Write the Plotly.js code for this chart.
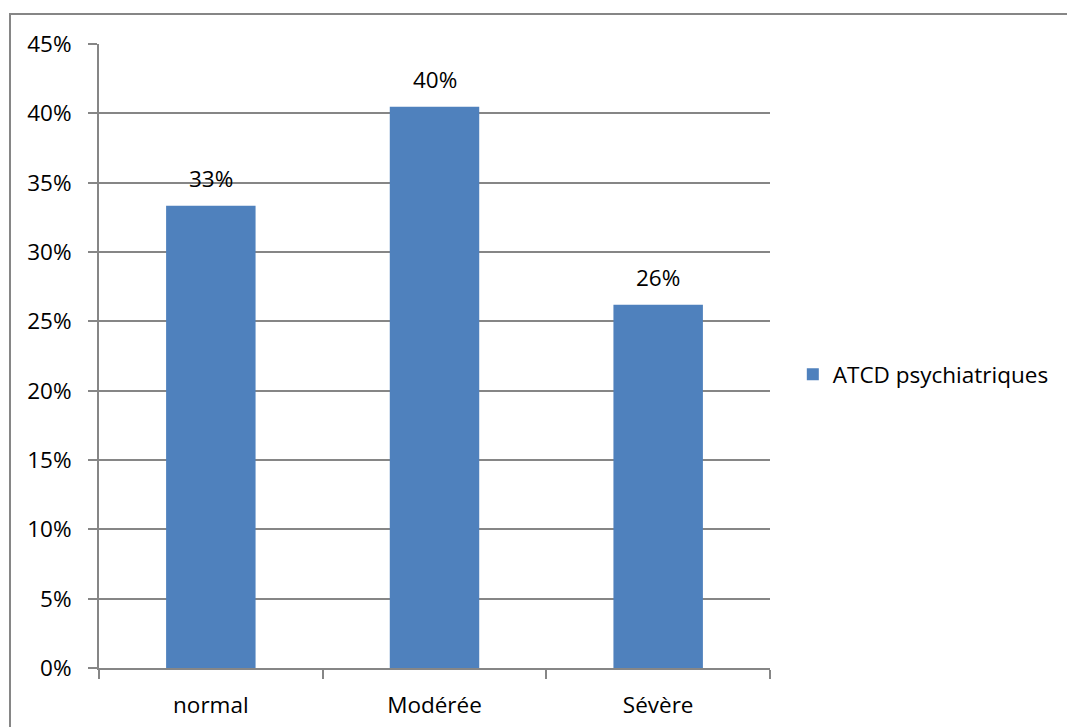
<!DOCTYPE html>
<html><head><meta charset="utf-8">
<script src="https://cdn.plot.ly/plotly-3.0.1.min.js"></script>
<style>
html,body{margin:0;padding:0;background:#fff;}
#wrap{position:relative;width:1067px;height:727px;}
#chart{width:1067px;height:727px;}
#frame{position:absolute;left:9px;top:13px;width:1070px;height:730px;border:2px solid #868686;box-sizing:border-box;pointer-events:none;}
</style></head>
<body>
<div id="wrap"><div id="chart"></div><div id="frame"></div></div>
<script>
const categories = ["normal", "Modérée", "Sévère"];
const values = [33.33, 40.48, 26.19];
const seriesName = "ATCD psychiatriques";
const yTickVals = [0, 5, 10, 15, 20, 25, 30, 35, 40, 45];
const yTickText = ["0%", "5%", "10%", "15%", "20%", "25%", "30%", "35%", "40%", "45%"];

const fam = "'Open Sans', 'Noto Sans', sans-serif";
const font = {family: fam, size: 22.5, color: "#000"};

const trace = {
  type: "bar", x: categories, y: values, name: seriesName,
  marker: {color: "#4F81BD", line: {width: 0}},
  showlegend: true, hoverinfo: "none"
};

const annotations = categories.map((c, i) => ({
  x: c, y: values[i], xref: "x", yref: "y",
  text: Math.round(values[i]) + "%", showarrow: false,
  yanchor: "bottom", yshift: 10, font: font
}));

const layout = {
  width: 1067, height: 727,
  margin: {l: 99, r: 297, t: 44, b: 59, pad: 0},
  paper_bgcolor: "#fff", plot_bgcolor: "#fff",
  font: font,
  bargap: 0.6,
  xaxis: {
    type: "category", showgrid: false, showline: true, linecolor: "#868686", linewidth: 2,
    ticks: "outside", tickson: "boundaries", ticklen: 9, tickcolor: "#868686", tickwidth: 2,
    tickfont: font, ticklabelstandoff: 16, zeroline: false, fixedrange: true
  },
  yaxis: {
    range: [0, 45], tickvals: yTickVals, ticktext: yTickText,
    showgrid: true, gridcolor: "#868686", gridwidth: 2,
    showline: true, linecolor: "#868686", linewidth: 2,
    ticks: "outside", ticklen: 9, tickcolor: "#868686", tickwidth: 2,
    tickfont: font, ticklabelstandoff: 12, zeroline: false, fixedrange: true
  },
  showlegend: true,
  legend: {x: 1.034, y: 0.47, xanchor: "left", yanchor: "middle", font: font,
           bgcolor: "rgba(0,0,0,0)", itemwidth: 30, tracegroupgap: 0},
  annotations: annotations
};

Plotly.newPlot("chart", [trace], layout, {displayModeBar: false, staticPlot: true});
</script>
</body></html>
